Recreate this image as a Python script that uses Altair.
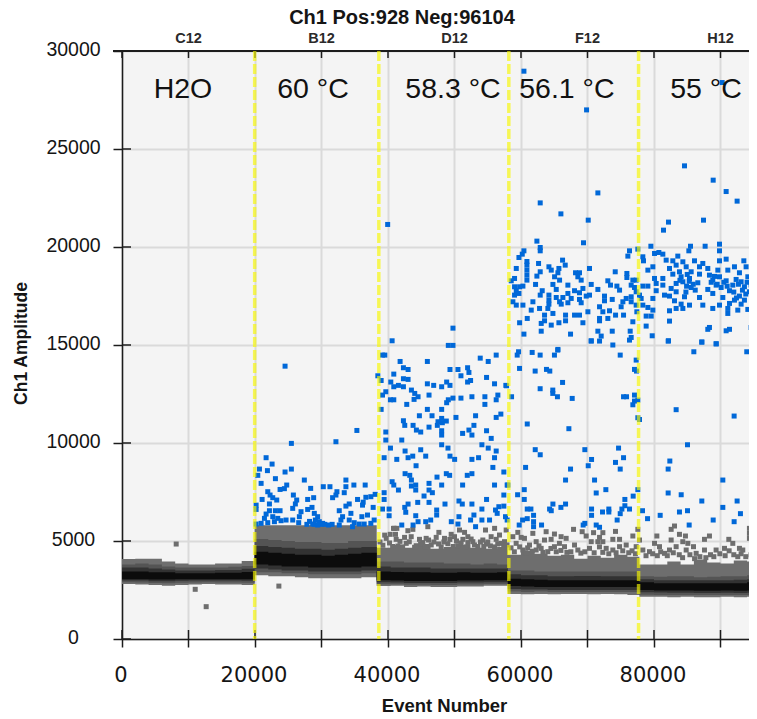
import altair as alt
import pandas as pd

X_MAX = 94286
Y_MAX = 30000

X_TICKS = [0, 10000, 20000, 30000, 40000, 50000, 60000, 70000, 80000, 90000]
Y_TICKS = [0, 5000, 10000, 15000, 20000, 25000, 30000]
WELL_NAMES = ["C12", "B12", "D12", "F12", "H12"]
WELL_X = [10000, 30000, 50000, 70000, 90000]
TEMP_NAMES = ["H2O", "60 °C", "58.3 °C", "56.1 °C", "55 °C"]
TEMP_X = [9170, 28720, 49770, 66900, 87820]
TEMP_Y = 27600
WELL_SPLITS = [19950, 38620, 58170, 77680]

EDGES = [0, 2000, 4000, 6000, 8000, 10000, 12000, 14000, 16000, 18000,
         19950, 22000, 24000, 26000, 28000, 30000, 32000, 34000, 36000,
         38300, 40400, 42400, 44400, 46400, 48400, 50400, 52400, 54400, 56400,
         58020, 60000, 62000, 64000, 66000, 68000, 70000, 72000, 74000, 76000,
         77800, 80000, 82000, 84000, 86000, 88000, 90000, 92000, 94000, 95489]

OUT_HI = [4080, 4100, 4100, 3950, 3850, 3800, 3800, 3850, 3850, 3980,
          5800, 5800, 5800, 5800, 5800, 5800, 5800, 5800, 5800,
          4650, 4800, 4650, 4850, 4600, 4700, 4800, 4650, 4600, 4700,
          4300, 4500, 4350, 4250, 4300, 4100, 4250, 4150, 4300, 4200,
          3800, 3800, 3950, 3800, 4050, 3900, 3850, 4000, 3950]
OUT_LO = [2800, 2780, 2750, 2720, 2760, 2780, 2800, 2780, 2780, 2760,
          3250, 3200, 3200, 3150, 3100, 3100, 3100, 3100, 3150,
          2700, 2720, 2650, 2680, 2650, 2650, 2680, 2680, 2720, 2720,
          2300, 2280, 2300, 2280, 2300, 2300, 2280, 2300, 2280, 2250,
          2150, 2150, 2130, 2150, 2130, 2130, 2150, 2130, 2150]
MID_HI = [3800, 3850, 3800, 3700, 3650, 3650, 3650, 3650, 3680, 3720,
          5100, 5050, 5000, 4950, 4950, 4900, 4900, 5000, 5000,
          3950, 3950, 3900, 3900, 3900, 3850, 3850, 3800, 3850, 3800,
          3500, 3500, 3450, 3450, 3450, 3450, 3450, 3450, 3450, 3450,
          3200, 3180, 3200, 3200, 3150, 3180, 3200, 3200, 3250]
MID_LO = [2900, 2880, 2860, 2850, 2870, 2880, 2890, 2880, 2880, 2870,
          3400, 3400, 3350, 3350, 3300, 3300, 3300, 3300, 3350,
          2790, 2790, 2770, 2770, 2760, 2760, 2780, 2780, 2800, 2800,
          2420, 2400, 2420, 2400, 2400, 2400, 2400, 2400, 2400, 2400,
          2260, 2250, 2250, 2250, 2240, 2240, 2250, 2240, 2250]
DARK_HI = [3650, 3650, 3600, 3550, 3500, 3500, 3500, 3520, 3520, 3580,
           4750, 4700, 4650, 4600, 4600, 4550, 4600, 4650, 4700,
           3700, 3650, 3650, 3650, 3600, 3600, 3600, 3600, 3600, 3600,
           3300, 3250, 3250, 3200, 3200, 3220, 3220, 3200, 3200, 3200,
           3050, 3000, 3000, 3000, 3000, 3000, 3000, 3020, 3050]
DARK_LO = [2980, 2980, 2950, 2950, 2970, 2980, 2980, 2980, 2980, 2970,
           3600, 3550, 3500, 3500, 3450, 3450, 3450, 3450, 3500,
           2900, 2880, 2860, 2860, 2860, 2860, 2880, 2880, 2900, 2900,
           2550, 2520, 2520, 2500, 2500, 2500, 2500, 2500, 2500, 2500,
           2380, 2370, 2360, 2360, 2350, 2350, 2360, 2350, 2360]
CORE_HI = [3450, 3450, 3400, 3400, 3350, 3350, 3350, 3380, 3380, 3420,
           4450, 4400, 4350, 4300, 4300, 4250, 4300, 4350, 4400,
           3450, 3420, 3400, 3400, 3380, 3380, 3400, 3380, 3380, 3400,
           3080, 3050, 3020, 3000, 3000, 3000, 3000, 3000, 3000, 3000,
           2900, 2850, 2850, 2850, 2850, 2850, 2850, 2850, 2900]
CORE_LO = [3050, 3050, 3030, 3030, 3050, 3050, 3050, 3050, 3050, 3050,
           3800, 3750, 3700, 3700, 3650, 3650, 3650, 3650, 3700,
           3000, 2980, 2960, 2960, 2960, 2960, 2980, 2980, 3000, 3000,
           2700, 2680, 2650, 2650, 2650, 2650, 2650, 2650, 2650, 2650,
           2500, 2480, 2470, 2470, 2460, 2460, 2470, 2460, 2470]

NEG_OUTLIERS = [(8150, 4845), (12660, 1650), (11010, 2535), (23590, 2700), (40980, 5645), (41330, 5645)]
NEG_D12 = [(40830, 5645), (40330, 5340), (41130, 5340), (42990, 5525), (43740, 5595), (45990, 5730), (47650, 5440),
           (49500, 5340), (50750, 5560), (51510, 5440), (52010, 5220), (54660, 5560), (56030, 5645), (55510, 5220),
           (56770, 5305), (57770, 5560), (39730, 5135), (41230, 5085), (42490, 5185), (43490, 5220), (44740, 5085),
           (45740, 5135), (47250, 5185), (48500, 5135), (50000, 5220), (51260, 5085), (52760, 4965), (54260, 5050),
           (56270, 5085), (57520, 4965), (39230, 4780), (40230, 4900), (41490, 4740), (42740, 4880), (44240, 4760),
           (45240, 4920), (46500, 4800), (48000, 4700), (49000, 4860), (50500, 4760), (52010, 4920), (53510, 4720),
           (54760, 4840), (56020, 4700), (57020, 4880),
           (38800, 4950), (39500, 5300), (40700, 4720), (41800, 4980), (42200, 4700), (43200, 4960), (44000, 4680),
           (44900, 4850), (45600, 4700), (46100, 5050), (46900, 4950), (47600, 4850), (48400, 4950), (49300, 5080),
           (49800, 4720), (50300, 5000), (51000, 4900), (51800, 4700), (52500, 5100), (53000, 4800), (53900, 4950),
           (54400, 4720), (55000, 4950), (55400, 4750), (56500, 4850), (57400, 4750), (57900, 4800)]
NEG_F12 = [(59520, 5440), (58770, 5220), (60020, 5185), (61780, 5390), (63780, 5475), (65030, 5355), (66030, 5220),
           (60520, 5135), (62280, 4965), (63530, 5050), (64530, 5085), (65780, 4880), (66790, 5135), (61280, 4795),
           (59270, 4880), (63030, 4625), (65030, 4710), (66540, 4710), (60270, 4540), (64030, 4455), (62280, 4540),
           (67900, 5595), (69200, 5475), (69800, 5255), (70910, 5425), (72310, 5425), (74210, 5490), (77570, 5595),
           (76820, 5255), (71810, 5185), (70560, 4965), (68050, 4795), (71560, 4965), (73810, 5085), (74820, 5085),
           (72310, 4965), (77820, 5050), (75820, 4795), (70300, 4625), (68550, 4540), (72810, 4625), (74820, 4710),
           (77320, 4710), (73810, 4540),
           (58500, 4650), (59000, 4450), (59800, 4700), (60700, 4400), (61000, 4650), (61700, 4480), (62700, 4750),
           (63300, 4420), (64500, 4620), (65300, 4450), (66000, 4520), (66900, 4420), (67500, 4450), (69000, 4380),
           (69600, 4450), (71000, 4400), (71800, 4700), (72300, 4420), (73200, 4350), (74300, 4400), (75300, 4500),
           (76200, 4400), (76700, 4500), (77200, 4350)]
NEG_H12 = [(80430, 5255), (82580, 5595), (83080, 5765), (83830, 5340), (84730, 5255), (84330, 4965), (85090, 4880),
           (85940, 4710), (82580, 5050), (80080, 4880), (80830, 4710), (83330, 4710), (87590, 5085), (88340, 5255),
           (91250, 5085), (91850, 4880), (94350, 5645), (94350, 5390), (94350, 5135), (92850, 4625), (89340, 4540),
           (90600, 4625), (95100, 4625), (87590, 4540), (82330, 4540), (79320, 4455), (84840, 4540), (86340, 4370),
           (78320, 4540), (81580, 4370), (93350, 4540),
           (78800, 4250), (79800, 4350), (80500, 4250), (81000, 4450), (82000, 4250), (82900, 4400), (83800, 4300),
           (84300, 4150), (85400, 4300), (86100, 4100), (86900, 4200), (87800, 4150), (88500, 4300), (89000, 4200),
           (89900, 4350), (90700, 4250), (91300, 4500), (92000, 4300), (92600, 4200), (93100, 4350), (93800, 4200),
           (94600, 4300), (95200, 4250)]

POS_B12 = [(24520, 13920), (25470, 9980), (32170, 10065), (35320, 10640), (21670, 9250), (22570, 8925), (20670, 8670),
           (21870, 8590), (24520, 8520), (25470, 8670), (20420, 8350), (23070, 8180), (27420, 8110), (33670, 8110),
           (20920, 7940), (24770, 7855), (30270, 7770), (31270, 7770), (33670, 7770), (34870, 7855), (36570, 7855),
           (28370, 7685), (23770, 7630), (24420, 7670), (21920, 7515), (32320, 7515), (33420, 7465), (32170, 7345),
           (22270, 7345), (25770, 7345), (31670, 7210), (22670, 7210), (28820, 7210), (38070, 7380), (37420, 7260),
           (36670, 7230), (21070, 7120), (27920, 7120), (23270, 7090), (26270, 7090), (35420, 7120), (36270, 6980),
           (22170, 6890), (26070, 6890), (20170, 6830), (34170, 6890), (33670, 6780), (25670, 6665), (20170, 6610),
           (36170, 6830), (37770, 6715), (32670, 6545), (27920, 6610), (28570, 6715), (22170, 6545), (23070, 6545),
           (23770, 6545), (21670, 6375), (28920, 6410), (26920, 6495), (34420, 6410), (36070, 6240), (36920, 6325),
           (33170, 6240), (21420, 6155), (22670, 6240), (23420, 6155), (26670, 6240), (29420, 6240), (29070, 6070),
           (29670, 5985), (28670, 5865), (29420, 5815), (30170, 5900), (20920, 5900), (21920, 5935), (22920, 5985),
           (23920, 6035), (24670, 6070), (25670, 6070), (26570, 5935), (31070, 5815), (32920, 6070), (34170, 6070),
           (34920, 5935), (35670, 5865), (37420, 5900), (37920, 6070), (20170, 5865), (32670, 5815), (34670, 5730),
           (36420, 5865), (27800, 5850), (28200, 6000), (28900, 5850), (29900, 5850), (30500, 5850), (31600, 5850)]

POS_D12 = [(49770, 15860), (40620, 15215), (49070, 14980), (49770, 14980), (39170, 14485), (39520, 14485), (56270, 14485),
           (53870, 14330), (55070, 14160), (41820, 14160), (45920, 14160), (42320, 13840), (43020, 13750), (49320, 13750),
           (50520, 13750), (51970, 13840), (52170, 13600), (40870, 13515), (50970, 13430), (54820, 13345), (38470, 13430),
           (38970, 13190), (42320, 13280), (43020, 13245), (40420, 13110), (45920, 13020), (46870, 12940), (48070, 12870),
           (48820, 13110), (49320, 12940), (51970, 13110), (52420, 13190), (56020, 13020), (57720, 12940), (40870, 12870),
           (41570, 12940), (42320, 12870), (43520, 12700), (39670, 12615), (39170, 12445), (44020, 12530), (44520, 12360),
           (46170, 12445), (43920, 12225), (40370, 12205), (40870, 12205), (49770, 12290), (49070, 12205), (50970, 12290),
           (52620, 12360), (54570, 12360), (56520, 12445), (56270, 12205), (48820, 12055), (42820, 11970), (54570, 11970),
           (38970, 11715), (45920, 11715), (48070, 11715), (44720, 11390), (46620, 11390), (50220, 11305), (53170, 11390),
           (56970, 11475), (56270, 11305), (48070, 11255), (42320, 11135), (47520, 11085), (48770, 11120), (48170, 11035),
           (47420, 10900), (42520, 10900), (43770, 10900), (46170, 10810), (52920, 10900), (44270, 10660), (44920, 10560),
           (39670, 10560), (48070, 10625), (48070, 10405), (52170, 10660), (51220, 10490), (52620, 10405), (54820, 10625),
           (55520, 10235), (39670, 10150), (42070, 10150), (48070, 9910), (54120, 9910), (49020, 9740), (40370, 9740),
           (44920, 9655), (55070, 9740), (42570, 9590), (56270, 9590), (49320, 9330), (43720, 9330), (43020, 9250),
           (45670, 9330), (39420, 9250), (41320, 9165), (50020, 9165), (52620, 9165), (53620, 9250), (56020, 9250),
           (44220, 8840), (55770, 8755), (57420, 8520), (42570, 8435), (43270, 8350), (48770, 8435), (49270, 8350),
           (51920, 8350), (52620, 8435), (47370, 8260), (40620, 8025), (43520, 8110), (46170, 7940), (48070, 7855),
           (51220, 7855), (56020, 7855), (57920, 7855), (40870, 7855), (43520, 7805), (44170, 7855), (44170, 7600),
           (41570, 7600), (46170, 7600), (46670, 7465), (39420, 7465), (45420, 7295), (57420, 7345), (39420, 7120),
           (54820, 7120), (44470, 6970), (46170, 6970), (48570, 6885), (50670, 7040), (51170, 6885), (52620, 6885),
           (43020, 6885), (42520, 6715), (39170, 6630), (40170, 6630), (47320, 6580), (54120, 6630), (56670, 6750),
           (57420, 6780), (56170, 6580), (50670, 6240), (42670, 6465), (44170, 6290), (47320, 6325), (40170, 6290),
           (52920, 6325), (56420, 6410), (52420, 6070), (54120, 6070), (55270, 6070), (45670, 5985), (46420, 6070),
           (44520, 5985), (49520, 5985), (50520, 5865), (43770, 5815), (42070, 5815), (53170, 5730), (57670, 6240),
           (57920, 6070), (39950, 21150)]

POS_F12 = [(59630, 14655), (59430, 14485), (61680, 14620), (62880, 14485), (65030, 14485), (65530, 14740), (59780, 13805),
           (62130, 13670), (63830, 13755), (64330, 13670), (66250, 13090), (57830, 12920), (62880, 12770), (64780, 12700),
           (64780, 12530), (65480, 12360), (67700, 12275), (58580, 12360), (60940, 10970), (67200, 10730), (62140, 9660),
           (62890, 9400), (69600, 9660), (70610, 9160), (60690, 8755), (67450, 8670), (70110, 8840), (66700, 8110),
           (71060, 8110), (58030, 7855), (60490, 7620), (59490, 7360), (60490, 7120), (71310, 7450), (72760, 7620),
           (64800, 6885), (66700, 6885), (64300, 6630), (64550, 6545), (66000, 6715), (60940, 6630), (61490, 6630),
           (70610, 6630), (70610, 6310), (72260, 6480), (73210, 6630), (73210, 6480), (61890, 6310), (60940, 6140),
           (60240, 6070), (59730, 5815), (61890, 5985), (61890, 5730), (63090, 5815), (69600, 5900), (69350, 5815),
           (71310, 5815), (71810, 5700), (74460, 6070), (74920, 6395), (75170, 6630), (75620, 6800), (76320, 6630),
           (75620, 7120), (76870, 7290), (77570, 7620), (70560, 15200), (71810, 15200), (73810, 15000), (76320, 15250),
           (74920, 14485), (77320, 14230), (77070, 13755), (77370, 13670), (77070, 12445), (75420, 12360), (75870, 12360),
           (77070, 12140), (76820, 11950), (77570, 12190), (77570, 11290), (77820, 11200), (74670, 9740), (75420, 9250),
           (74210, 9010), (74920, 8670),
           (60440, 28970), (69860, 26995), (71560, 22760), (62890, 22250), (66000, 21690), (70110, 21370), (62390, 20300),
           (69400, 20215), (62890, 19975), (62890, 19805), (60440, 19805), (60190, 19635), (59690, 19465), (60890, 19260),
           (60890, 19075), (60890, 18820), (60890, 18565), (62640, 19160), (66250, 19330), (66650, 19075), (59290, 18905),
           (64200, 18990), (64550, 18820), (65700, 18905), (62890, 18735), (62390, 18515), (65550, 18685), (65050, 18480),
           (68200, 18685), (68800, 18685), (70300, 18905), (74170, 18735), (68550, 18480), (59030, 18395), (58530, 18275),
           (60890, 18310), (65800, 18310), (69050, 18310), (73060, 18275), (75920, 18650), (75920, 18445), (77320, 18310),
           (76820, 18310), (62190, 18090), (64800, 18090), (67050, 18055), (70560, 18090), (73460, 18055), (74420, 18005),
           (76570, 18055), (59030, 17970), (59790, 17970), (60290, 18005), (59290, 17770), (59690, 17630), (63190, 17770),
           (65300, 17835), (68050, 17770), (69310, 17885), (71560, 17835), (74820, 17800), (77070, 17935), (59030, 17545),
           (62890, 17545), (64200, 17545), (67050, 17630), (68800, 17665), (70300, 17545), (72560, 17495), (77320, 17715),
           (65300, 17425), (66300, 17425), (67550, 17375), (69810, 17495), (75820, 17375), (76570, 17460), (77820, 17545),
           (64200, 17290), (61790, 17205), (65800, 17205), (67050, 17155), (68800, 17325), (72560, 17255), (73720, 17325),
           (75320, 17205), (58780, 17205), (76570, 17205), (59290, 17035), (60290, 17035), (64200, 17085), (66050, 17085),
           (69050, 17155), (75060, 16950), (77320, 17035), (62790, 16865), (64040, 16865), (61540, 16780), (71810, 16950),
           (73310, 16745), (72310, 16695), (68800, 16525), (70060, 16695), (64800, 16610), (63540, 16525), (66700, 16525),
           (68050, 16525), (74220, 16525), (75420, 16525), (77420, 16695), (60940, 16355), (71810, 16355), (73060, 16355),
           (66700, 16235), (63540, 16235), (69310, 16135), (59790, 16135), (71810, 16235), (76820, 16185), (65700, 16135),
           (64550, 16015), (63040, 16100), (63040, 15705), (73720, 15705), (76420, 15705), (71560, 15705), (60440, 15555),
           (67450, 15555), (72060, 15455), (76570, 15385), (70560, 15215), (65550, 14775)]

POS_H12 = [(78270, 6545), (79030, 6140), (82130, 15200), (87190, 15150), (89350, 15060), (85990, 14655), (93950, 14655),
           (95450, 13430), (83330, 11700), (92050, 11375), (85040, 9910), (82380, 9080), (82130, 8670), (90350, 8110),
           (82130, 7450), (84090, 7360), (87190, 7040), (92500, 7040), (90350, 6715), (85040, 6545), (83830, 6480),
           (80930, 6310), (93000, 6395), (94970, 6480), (88900, 6070), (92050, 5985), (85290, 5815),
           (90250, 28390), (84590, 24140), (88900, 23410), (90850, 22830), (92500, 22340), (82180, 21270), (87440, 21370),
           (81430, 20860), (77570, 19890), (79530, 20040), (85490, 20040), (87690, 20040), (89850, 20145), (85240, 19805),
           (89850, 19805), (76320, 19805), (76070, 19535), (80080, 19670), (80730, 19720), (81330, 19635), (81830, 19330),
           (78320, 19500), (78420, 19295), (83580, 19535), (84340, 19245), (82830, 19295), (86090, 19295), (87340, 19160),
           (89850, 19295), (90850, 19380), (93510, 19295), (95110, 19380), (83330, 19075), (84840, 18990), (82330, 18905),
           (86840, 18990), (92100, 18990), (79830, 18990), (79080, 18820), (88090, 18905), (89600, 18820), (91100, 18820),
           (93850, 18990), (83830, 18735), (85590, 18735), (82830, 18615), (86840, 18615), (92850, 18685), (88340, 18565),
           (89850, 18480), (95110, 18480), (80080, 18395), (81330, 18395), (84080, 18480), (85340, 18395), (92350, 18345),
           (94110, 18480), (88840, 18310), (90850, 18275), (93100, 18225), (84340, 18225), (83330, 18140), (86590, 18175),
           (80330, 18140), (78320, 18005), (79080, 18005), (81330, 18055), (89350, 18055), (94600, 18055), (91850, 18055),
           (93600, 17970), (90100, 17935), (82580, 17885), (85590, 17935), (88090, 17835), (80330, 17770), (91350, 17770),
           (94350, 17715), (83330, 17715), (88840, 17630), (78070, 17375), (81580, 17545), (82330, 17495), (92850, 17495),
           (84590, 17460), (86840, 17425), (90350, 17425), (94860, 17425), (79830, 17375), (92100, 17290), (93600, 17290),
           (83080, 17255), (84080, 17085), (85340, 17035), (87340, 17035), (89850, 17035), (93100, 17085), (91350, 17120),
           (78320, 17035), (79080, 16915), (82330, 16745), (79830, 16780), (83330, 16865), (84340, 16865), (88840, 16865),
           (91100, 16865), (92600, 16780), (94110, 16815), (91100, 16610), (78820, 16475), (79580, 16475), (82330, 16220),
           (78820, 15965), (88340, 15895), (88090, 15800), (90850, 15725), (91350, 15800), (94600, 15895), (79730, 15470),
           (82180, 15215), (87190, 15150), (89350, 15060),
           (85000, 18600), (85900, 18100), (84800, 17700), (86200, 17800), (83900, 18300), (84900, 18000), (85300, 18250),
           (89100, 18500), (89500, 18100), (90500, 18200), (91000, 18000), (92000, 17700), (92700, 18100), (93300, 17800),
           (94000, 18200), (94800, 17800), (95200, 18000), (88600, 18200), (93800, 17600), (92400, 17400)]

AXIS_COLOR = "#1c1c1c"
TEXT_COLOR = "#151515"
BG = "#f4f4f4"
GRID = "#dadada"
BLUE = "#0068d8"
GREY = "#6e6e6e"
BAND_COLORS = ["#6e6e6e", "#545454", "#323232", "#0c0c0c"]

xs = alt.Scale(domain=[0, X_MAX], nice=False, zero=False)
ys = alt.Scale(domain=[0, Y_MAX], nice=False, zero=False)

x_axis = alt.Axis(
    values=X_TICKS, labelExpr="datum.value % 20000 === 0 ? datum.value : ''", format="d",
    grid=True, gridColor=GRID, gridWidth=2, tickSize=8, tickWidth=1.5, tickColor=AXIS_COLOR,
    domainColor=AXIS_COLOR, domainWidth=1.5, labelFont="DejaVu Sans", labelFontSize=21,
    labelColor=TEXT_COLOR, labelBaseline="alphabetic", labelPadding=34, labelOffset=-1.5,
    labelOverlap=False, labelFlush=False, title="Event Number", titleFont="Liberation Sans", titleFontSize=18.5,
    titleFontWeight="bold", titleColor=TEXT_COLOR, titleX=322, titleY=72, titleBaseline="alphabetic",
)
y_axis = alt.Axis(
    values=Y_TICKS, format="d", grid=True, gridColor=GRID, gridWidth=2, tickSize=9, tickWidth=1.5,
    tickColor=AXIS_COLOR, domainColor=AXIS_COLOR, domainWidth=1.5, labelFont="Liberation Sans",
    labelFontSize=19.5, labelColor=TEXT_COLOR, labelAlign="center", labelBaseline="middle", labelPadding=40,
    labelOffset=-2, labelOverlap=False, title="Ch1 Amplitude", titleFont="Liberation Sans", titleFontSize=17.5,
    titleFontWeight="bold", titleColor=TEXT_COLOR, titleX=-101, titleY=292, titleAngle=270,
    titleBaseline="middle",
)


def X(field="x"):
    return alt.X(f"{field}:Q", scale=xs, axis=x_axis)


def Y(field="y"):
    return alt.Y(f"{field}:Q", scale=ys, axis=y_axis)


def pts(rows):
    return pd.DataFrame(rows, columns=["x", "y"])


def band(hi, lo):
    return pd.DataFrame({"x": EDGES, "hi": hi + [hi[-1]], "lo": lo + [lo[-1]]})


layers = []
for hi, lo, col in [(OUT_HI, OUT_LO, BAND_COLORS[0]), (MID_HI, MID_LO, BAND_COLORS[1]),
                    (DARK_HI, DARK_LO, BAND_COLORS[2]), (CORE_HI, CORE_LO, BAND_COLORS[3])]:
    layers.append(
        alt.Chart(band(hi, lo)).mark_area(interpolate="step-after", color=col).encode(
            x=X(), y=Y("hi"), y2="lo:Q",
        )
    )

neg = pts(NEG_OUTLIERS + NEG_D12 + NEG_F12 + NEG_H12)
layers.append(alt.Chart(neg).mark_square(size=25, color=GREY, opacity=1).encode(x=X(), y=Y()))
pos = pts(POS_B12 + POS_D12 + POS_F12 + POS_H12)
layers.append(alt.Chart(pos).mark_square(size=25, color=BLUE, opacity=1).encode(x=X(), y=Y()))

# inward halves of the ticks
xt = pd.DataFrame({"x": X_TICKS})
yt = pd.DataFrame({"y": Y_TICKS})
tick = dict(color=AXIS_COLOR, strokeWidth=1.5)
layers.append(alt.Chart(xt).mark_rule(**tick).encode(x=X(), y=alt.value(579), y2=alt.value(588)))
layers.append(alt.Chart(xt).mark_rule(**tick).encode(x=X(), y=alt.value(0), y2=alt.value(7)))
layers.append(alt.Chart(yt).mark_rule(**tick).encode(y=Y(), x=alt.value(0), x2=alt.value(9)))
layers.append(alt.Chart(pd.DataFrame({"a": [0]})).mark_rule(color=AXIS_COLOR, strokeWidth=2).encode(
    x=alt.value(-9), x2=alt.value(627), y=alt.value(0)))

layers.append(
    alt.Chart(pd.DataFrame({"x": TEMP_X, "y": [TEMP_Y] * 5, "t": TEMP_NAMES})).mark_text(
        font="Liberation Sans", fontSize=28.5, color="#111111", baseline="alphabetic", align="center"
    ).encode(x=X(), y=Y(), text="t:N")
)
layers.append(
    alt.Chart(pd.DataFrame({"x": WELL_X, "t": WELL_NAMES})).mark_text(
        font="Liberation Sans", fontSize=14.5, fontWeight="bold", color="#2a2a2a", baseline="alphabetic", align="center"
    ).encode(x=X(), y=alt.value(-8), text="t:N")
)
layers.append(
    alt.Chart(pd.DataFrame({"x": [42100], "t": ["Ch1 Pos:928 Neg:96104"]})).mark_text(
        font="Liberation Sans", fontSize=20, fontWeight="bold", color=TEXT_COLOR, baseline="alphabetic", align="center"
    ).encode(x=X(), y=alt.value(-27), text="t:N")
)
layers.append(
    alt.Chart(pd.DataFrame({"x": WELL_SPLITS})).mark_rule(
        color="#f8f800", opacity=0.65, strokeWidth=3.5, strokeDash=[10, 3]
    ).encode(x=X())
)

chart = alt.layer(*layers).properties(
    width=627,
    height=588,
    autosize=alt.AutoSizeParams(type="none"),
    padding={"left": 114, "top": 43, "right": 0, "bottom": 80},
    background="white",
).configure_view(fill=BG, stroke=None)

chart.save("out.html", embed_options={"renderer": "svg", "actions": False})
